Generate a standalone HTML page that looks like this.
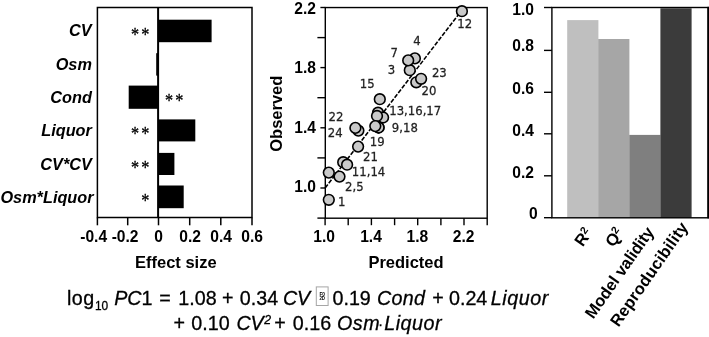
<!DOCTYPE html>
<html><head><meta charset="utf-8"><title>Figure</title>
<style>
html,body{margin:0;padding:0;background:#fff;}
body{width:709px;height:337px;overflow:hidden;}
svg{display:block;}
text{font-family:"Liberation Sans",Arial,sans-serif;fill:#000;}
.b{font-weight:bold;}
.bi{font-weight:bold;font-style:italic;}
.i{font-style:italic;}
.tk{font-weight:bold;font-size:15.6px;}
.cat{font-weight:bold;font-style:italic;font-size:16.3px;}
.ax{font-weight:bold;font-size:16.5px;}
.st{font-family:"Liberation Serif",serif;font-size:18px;letter-spacing:2.4px;stroke:#000;stroke-width:0.3px;}
.pl{font-family:"DejaVu Sans",sans-serif;font-size:11.7px;fill:#222;stroke:#222;stroke-width:0.25px;}

</style></head><body>
<svg width="709" height="337" viewBox="0 0 709 337">
<rect x="0" y="0" width="709" height="337" fill="#fff"/>

<g id="effects">
<rect x="158.1" y="19.7" width="53.5" height="22.5" fill="#000"/>
<text class="cat" x="91.6" y="35.9" text-anchor="end">CV</text>
<text class="st" transform="translate(131.0,40.9) scale(0.9,1)">**</text>
<rect x="156.2" y="53.2" width="1.9" height="22.4" fill="#000"/>
<text class="cat" x="91.9" y="70.0" text-anchor="end">Osm</text>
<rect x="128.7" y="85.6" width="29.4" height="23.2" fill="#000"/>
<text class="cat" x="91.9" y="102.8" text-anchor="end">Cond</text>
<text class="st" transform="translate(165.1,107.1) scale(0.9,1)">**</text>
<rect x="158.1" y="119.4" width="37.2" height="22.0" fill="#000"/>
<text class="cat" x="91.9" y="136.0" text-anchor="end">Liquor</text>
<text class="st" transform="translate(131.0,140.3) scale(0.9,1)">**</text>
<rect x="158.1" y="152.9" width="16.3" height="22.1" fill="#000"/>
<text class="cat" x="91.9" y="169.5" text-anchor="end">CV*CV</text>
<text class="st" transform="translate(131.0,173.8) scale(0.9,1)">**</text>
<rect x="158.1" y="185.5" width="25.6" height="22.7" fill="#000"/>
<text class="cat" x="93.6" y="203.0" text-anchor="end">Osm*Liquor</text>
<text class="st" transform="translate(141.3,206.8) scale(0.9,1)">*</text>
<rect x="97.4" y="7.5" width="154.6" height="210.0" fill="none" stroke="#000" stroke-width="1.5"/>
<line x1="158.1" y1="7.5" x2="158.1" y2="217.5" stroke="#000" stroke-width="2"/>
<line x1="97.4" y1="217.5" x2="97.4" y2="225.3" stroke="#000" stroke-width="1.5"/>
<text class="tk" x="93.7" y="242" text-anchor="middle">-0.4</text>
<line x1="127.7" y1="217.5" x2="127.7" y2="225.3" stroke="#000" stroke-width="1.5"/>
<text class="tk" x="125.1" y="242" text-anchor="middle">-0.2</text>
<line x1="158.5" y1="217.5" x2="158.5" y2="225.3" stroke="#000" stroke-width="1.5"/>
<text class="tk" x="158.5" y="242" text-anchor="middle">0</text>
<line x1="189.7" y1="217.5" x2="189.7" y2="225.3" stroke="#000" stroke-width="1.5"/>
<text class="tk" x="190.2" y="242" text-anchor="middle">0.2</text>
<line x1="220.8" y1="217.5" x2="220.8" y2="225.3" stroke="#000" stroke-width="1.5"/>
<text class="tk" x="221.2" y="242" text-anchor="middle">0.4</text>
<line x1="252.0" y1="217.5" x2="252.0" y2="225.3" stroke="#000" stroke-width="1.5"/>
<text class="tk" x="252.2" y="242" text-anchor="middle">0.6</text>
<text class="ax" x="175.8" y="268" text-anchor="middle">Effect size</text>
</g>
<g id="scatter">
<line x1="325.1" y1="188.0" x2="464.0" y2="7.5" stroke="#000" stroke-width="1.6" stroke-dasharray="4.4,1.6"/>
<rect x="325.3" y="7.55" width="161.89999999999998" height="210.64999999999998" fill="none" stroke="#000" stroke-width="1.4"/>
<line x1="317.4" y1="218.1" x2="325.3" y2="218.1" stroke="#000" stroke-width="1.4"/>
<line x1="320.4" y1="188.0" x2="325.3" y2="188.0" stroke="#000" stroke-width="1.4"/>
<text class="tk" x="315.9" y="191.7" text-anchor="end">1.0</text>
<line x1="317.4" y1="157.9" x2="325.3" y2="157.9" stroke="#000" stroke-width="1.4"/>
<line x1="320.4" y1="127.8" x2="325.3" y2="127.8" stroke="#000" stroke-width="1.4"/>
<text class="tk" x="315.9" y="132.7" text-anchor="end">1.4</text>
<line x1="317.4" y1="97.7" x2="325.3" y2="97.7" stroke="#000" stroke-width="1.4"/>
<line x1="320.4" y1="67.6" x2="325.3" y2="67.6" stroke="#000" stroke-width="1.4"/>
<text class="tk" x="315.9" y="73.3" text-anchor="end">1.8</text>
<line x1="317.4" y1="37.6" x2="325.3" y2="37.6" stroke="#000" stroke-width="1.4"/>
<line x1="320.4" y1="7.5" x2="325.3" y2="7.5" stroke="#000" stroke-width="1.4"/>
<text class="tk" x="315.9" y="13.5" text-anchor="end">2.2</text>
<line x1="325.1" y1="218.2" x2="325.1" y2="225.2" stroke="#000" stroke-width="1.4"/>
<text class="tk" x="324.2" y="242" text-anchor="middle">1.0</text>
<line x1="348.2" y1="218.2" x2="348.2" y2="225.2" stroke="#000" stroke-width="1.4"/>
<line x1="371.4" y1="218.2" x2="371.4" y2="225.2" stroke="#000" stroke-width="1.4"/>
<text class="tk" x="371.0" y="242" text-anchor="middle">1.4</text>
<line x1="394.6" y1="218.2" x2="394.6" y2="225.2" stroke="#000" stroke-width="1.4"/>
<line x1="417.7" y1="218.2" x2="417.7" y2="225.2" stroke="#000" stroke-width="1.4"/>
<text class="tk" x="417.3" y="242" text-anchor="middle">1.8</text>
<line x1="440.9" y1="218.2" x2="440.9" y2="225.2" stroke="#000" stroke-width="1.4"/>
<line x1="464.0" y1="218.2" x2="464.0" y2="225.2" stroke="#000" stroke-width="1.4"/>
<text class="tk" x="463.6" y="242" text-anchor="middle">2.2</text>
<line x1="487.2" y1="218.2" x2="487.2" y2="225.2" stroke="#000" stroke-width="1.4"/>
<circle cx="461.9" cy="11.2" r="5.35" fill="#c9c9c9" stroke="#000" stroke-width="1.6"/>
<circle cx="414.9" cy="58.4" r="5.35" fill="#c9c9c9" stroke="#000" stroke-width="1.6"/>
<circle cx="409.8" cy="70.2" r="5.35" fill="#c9c9c9" stroke="#000" stroke-width="1.6"/>
<circle cx="408.2" cy="60.4" r="5.35" fill="#c9c9c9" stroke="#000" stroke-width="1.6"/>
<circle cx="416.3" cy="82.3" r="5.35" fill="#c9c9c9" stroke="#000" stroke-width="1.6"/>
<circle cx="421.1" cy="78.8" r="5.35" fill="#c9c9c9" stroke="#000" stroke-width="1.6"/>
<circle cx="379.8" cy="99.2" r="5.35" fill="#c9c9c9" stroke="#000" stroke-width="1.6"/>
<circle cx="378" cy="112.7" r="5.35" fill="#c9c9c9" stroke="#000" stroke-width="1.6"/>
<circle cx="383.1" cy="117.5" r="5.35" fill="#c9c9c9" stroke="#000" stroke-width="1.6"/>
<circle cx="377" cy="116" r="5.35" fill="#c9c9c9" stroke="#000" stroke-width="1.6"/>
<circle cx="378.6" cy="127.5" r="5.35" fill="#c9c9c9" stroke="#000" stroke-width="1.6"/>
<circle cx="378.6" cy="127.5" r="5.35" fill="#c9c9c9" stroke="#000" stroke-width="1.6"/>
<circle cx="375.3" cy="126.1" r="5.35" fill="#c9c9c9" stroke="#000" stroke-width="1.6"/>
<circle cx="358.4" cy="130.6" r="5.35" fill="#c9c9c9" stroke="#000" stroke-width="1.6"/>
<circle cx="355.4" cy="127.9" r="5.35" fill="#c9c9c9" stroke="#000" stroke-width="1.6"/>
<circle cx="358.1" cy="146.6" r="5.35" fill="#c9c9c9" stroke="#000" stroke-width="1.6"/>
<circle cx="343.2" cy="162.2" r="5.35" fill="#c9c9c9" stroke="#000" stroke-width="1.6"/>
<circle cx="347.1" cy="164.7" r="5.35" fill="#c9c9c9" stroke="#000" stroke-width="1.6"/>
<circle cx="328.8" cy="172.6" r="5.35" fill="#c9c9c9" stroke="#000" stroke-width="1.6"/>
<circle cx="339.5" cy="176.6" r="5.35" fill="#c9c9c9" stroke="#000" stroke-width="1.6"/>
<circle cx="328.8" cy="199.8" r="5.35" fill="#c9c9c9" stroke="#000" stroke-width="1.6"/>
<text class="pl" transform="translate(457.3,28) scale(1,1.1)">12</text>
<text class="pl" transform="translate(413.2,44.5) scale(1,1.1)">4</text>
<text class="pl" transform="translate(390.5,57.4) scale(1,1.1)">7</text>
<text class="pl" transform="translate(387.8,74.3) scale(1,1.1)">3</text>
<text class="pl" transform="translate(431.9,76.6) scale(1,1.1)">23</text>
<text class="pl" transform="translate(359.8,87.6) scale(1,1.1)">15</text>
<text class="pl" transform="translate(421.5,95.4) scale(1,1.1)">20</text>
<text class="pl" transform="translate(389.2,115.3) scale(1,1.1)">13,16,17</text>
<text class="pl" transform="translate(391.8,131.6) scale(1,1.1)">9,18</text>
<text class="pl" transform="translate(328.5,121.2) scale(1,1.1)">22</text>
<text class="pl" transform="translate(327.7,137.4) scale(1,1.1)">24</text>
<text class="pl" transform="translate(369.7,145.6) scale(1,1.1)">19</text>
<text class="pl" transform="translate(363.0,160.9) scale(1,1.1)">21</text>
<text class="pl" transform="translate(351.8,175.5) scale(1,1.1)">11,14</text>
<text class="pl" transform="translate(345.1,190.5) scale(1,1.1)">2,5</text>
<text class="pl" transform="translate(337.9,206) scale(1,1.1)">1</text>
<text class="ax" x="406" y="267.5" text-anchor="middle">Predicted</text>
<text class="ax" transform="translate(282,113.7) rotate(-90)" text-anchor="middle">Observed</text>
</g>
<g id="summary">
<rect x="567.2" y="20.1" width="31.2" height="197.7" fill="#bfbfbf"/>
<rect x="598.2" y="39.0" width="31.2" height="178.8" fill="#a6a6a6"/>
<rect x="629.3" y="134.9" width="31.2" height="82.9" fill="#7f7f7f"/>
<rect x="660.4" y="8.3" width="31.2" height="209.5" fill="#3b3b3b"/>
<rect x="551.9" y="7.5" width="156.10000000000002" height="210.3" fill="none" stroke="#000" stroke-width="1.4"/>
<line x1="708.3" y1="6.8" x2="708.3" y2="218.5" stroke="#000" stroke-width="1.4"/>
<line x1="544" y1="217.7" x2="551.9" y2="217.7" stroke="#000" stroke-width="1.4"/>
<text class="tk" x="537.8" y="219.3" text-anchor="end">0</text>
<line x1="544" y1="175.8" x2="551.9" y2="175.8" stroke="#000" stroke-width="1.4"/>
<text class="tk" x="534" y="178.0" text-anchor="end">0.2</text>
<line x1="544" y1="133.8" x2="551.9" y2="133.8" stroke="#000" stroke-width="1.4"/>
<text class="tk" x="534" y="136.1" text-anchor="end">0.4</text>
<line x1="544" y1="92.3" x2="551.9" y2="92.3" stroke="#000" stroke-width="1.4"/>
<text class="tk" x="534" y="93.6" text-anchor="end">0.6</text>
<line x1="544" y1="50.4" x2="551.9" y2="50.4" stroke="#000" stroke-width="1.4"/>
<text class="tk" x="534" y="50.8" text-anchor="end">0.8</text>
<line x1="544" y1="7.5" x2="551.9" y2="7.5" stroke="#000" stroke-width="1.4"/>
<text class="tk" x="534" y="14.7" text-anchor="end">1.0</text>
<text class="ax" transform="translate(593.0,233.0) rotate(-55)" text-anchor="end" letter-spacing="0">R<tspan font-size="10.5" dy="-5.5">2</tspan></text>
<text class="ax" transform="translate(624.2,232.8) rotate(-55)" text-anchor="end" letter-spacing="0">Q<tspan font-size="10.5" dy="-5.5">2</tspan></text>
<text class="ax" transform="translate(654.6,232.0) rotate(-55)" text-anchor="end" letter-spacing="-0.15">Model validity</text>
<text class="ax" transform="translate(689.0,227.0) rotate(-55)" text-anchor="end" letter-spacing="0.2">Reproducibility</text>
</g>
<g id="equation" stroke="#000" stroke-width="0.3">
<text x="66.9" y="305.2" font-size="19.7" letter-spacing="0.5">log</text>
<text x="95.0" y="309.7" font-size="11.9">10</text>
<text class="i" x="114.2" y="305.2" font-size="19.7">PC</text>
<text x="141.5" y="305.2" font-size="19.7">1</text>
<text x="159.2" y="305.2" font-size="19.7">=</text>
<text x="178.3" y="305.2" font-size="19.7">1.08</text>
<text x="222.0" y="305.2" font-size="19.7">+</text>
<text x="239.8" y="305.2" font-size="19.7">0.34</text>
<text class="i" x="282.9" y="305.2" font-size="19.7">CV</text>
<text x="332.5" y="305.2" font-size="19.7">0.19</text>
<text class="i" x="377.0" y="305.2" font-size="19.7" letter-spacing="0.3">Cond</text>
<text x="432.2" y="305.2" font-size="19.7">+</text>
<text x="449.0" y="305.2" font-size="19.7">0.24</text>
<text class="i" x="490.8" y="305.2" font-size="19.7" letter-spacing="0.55">Liquor</text>
<rect x="316.3" y="286.9" width="11.8" height="18.6" fill="#fff" stroke="#a6a6a6" stroke-width="1"/>
<text x="319.4" y="296.0" font-size="5" font-weight="bold" fill="#222" stroke="none" textLength="5.6" lengthAdjust="spacingAndGlyphs">F0</text>
<text x="319.4" y="300.3" font-size="5" font-weight="bold" fill="#222" stroke="none" textLength="5.6" lengthAdjust="spacingAndGlyphs">2D</text>
<text x="173.6" y="330.1" font-size="19.7">+</text>
<text x="191.3" y="330.1" font-size="19.7">0.10</text>
<text class="i" x="236.4" y="330.1" font-size="19.7">CV</text>
<text class="i" x="264.3" y="323.90000000000003" font-size="12.3">2</text>
<text x="274.3" y="330.1" font-size="19.7">+</text>
<text x="292.8" y="330.1" font-size="19.7">0.16</text>
<text class="i" x="337.0" y="330.1" font-size="19.7" letter-spacing="0.5">Osm</text>
<text x="378.2" y="329.3" font-size="14">·</text>
<text class="i" x="384.2" y="330.1" font-size="19.7" letter-spacing="0.55">Liquor</text>
</g>
</svg></body></html>
